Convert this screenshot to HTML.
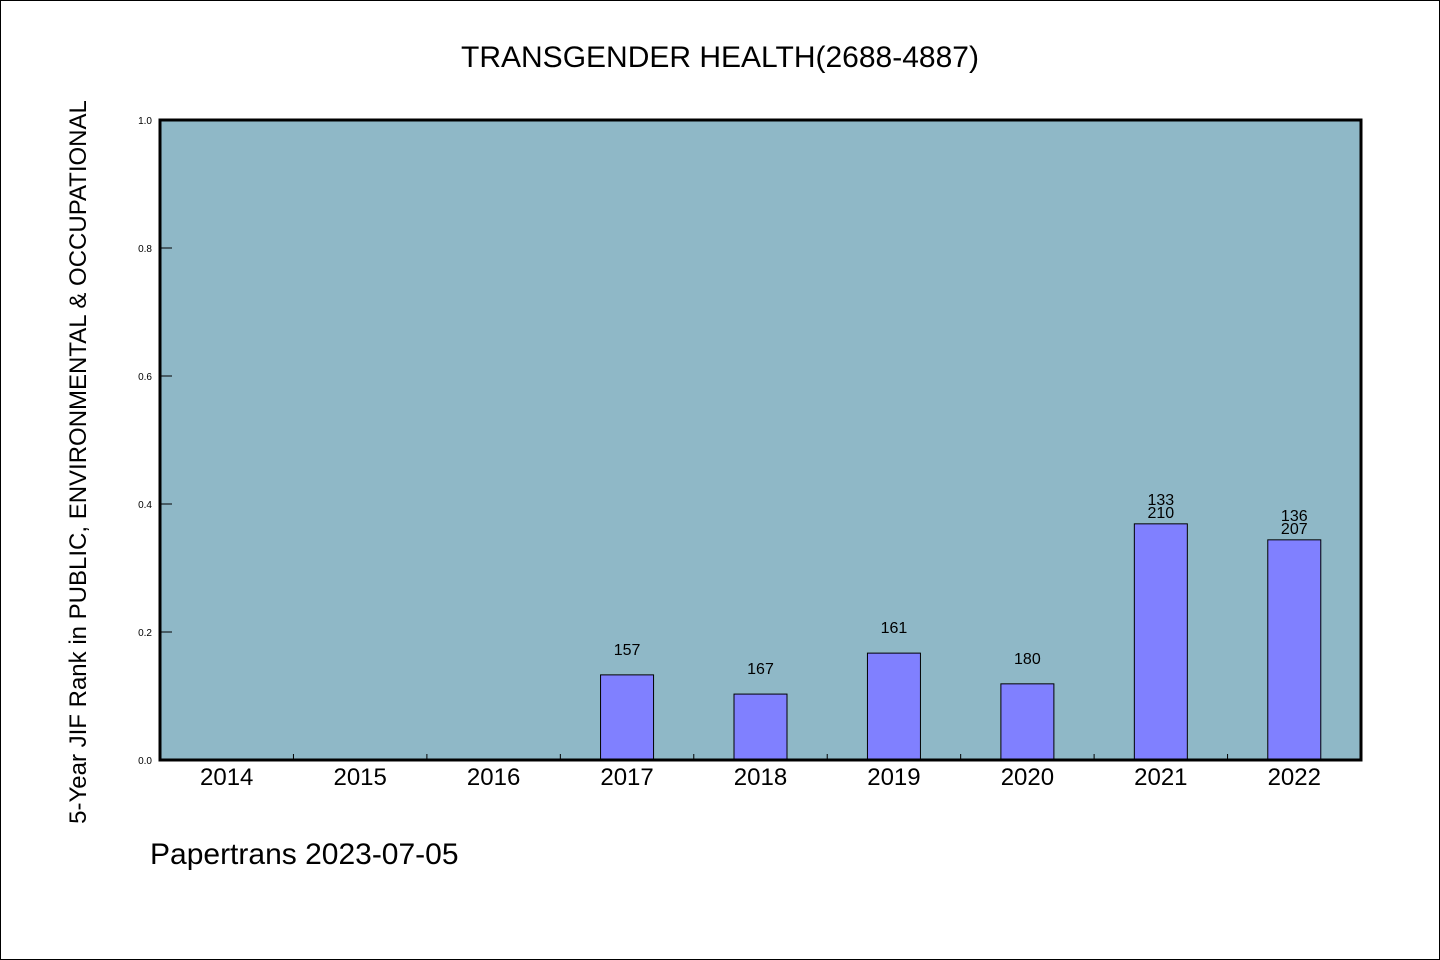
<!DOCTYPE html>
<html><head><meta charset="utf-8"><style>
html,body{margin:0;padding:0;background:#fff}
svg{display:block}
text{font-family:"WenQuanYi Zen Hei","Liberation Sans",sans-serif}
</style></head><body>
<svg id="chart" width="1440" height="960" xmlns="http://www.w3.org/2000/svg">
<rect x="0.5" y="0.5" width="1439" height="959" fill="#fff" stroke="#000"/>
<text x="720" y="67" font-size="30" text-anchor="middle">TRANSGENDER HEALTH(2688-4887)</text>
<text transform="translate(86,462) rotate(-90)" font-size="24" text-anchor="middle">5-Year JIF Rank in PUBLIC, ENVIRONMENTAL &amp; OCCUPATIONAL</text>
<text x="150" y="864" font-size="30">Papertrans 2023-07-05</text>
<rect x="160" y="120" width="1201" height="640" fill="#8fb8c7"/>
<g id="marks"></g>
<rect x="160" y="120" width="1201" height="640" fill="none" stroke="#000" stroke-width="3"/>
</svg>
<script>
const categories = ["2014","2015","2016","2017","2018","2019","2020","2021","2022"];
const values = [null,null,null,0.133,0.103,0.167,0.119,0.369,0.344];
const labelsLower = [null,null,null,"157","167","161","180","210","207"];
const labelsUpper = [null,null,null,null,null,null,null,"133","136"];
const yTicks = [0,0.2,0.4,0.6,0.8,1.0];
const yTickLabels = ["0.0","0.2","0.4","0.6","0.8","1.0"];

const X0=160,X1=1361,Y0=760,Y1=120;
const band=(X1-X0)/categories.length;
const xC=i=>X0+band*(i+0.5);
const y=v=>Y0-(v)*(Y0-Y1);
const g=document.getElementById('marks');
const NS="http://www.w3.org/2000/svg";
function mk(t,a){const e=document.createElementNS(NS,t);for(const k in a)e.setAttribute(k,a[k]);g.appendChild(e);return e;}

yTicks.forEach((v,i)=>{
  const l=mk('line',{x1:X0,x2:X0+12,y1:y(v),y2:y(v),stroke:'#000','stroke-width':1});
  
  
  const t=mk('text',{x:X0-8,y:y(v)+4,'font-size':10,'text-anchor':'end'});
  t.textContent=yTickLabels[i];
  
  
});
categories.forEach((c,i)=>{
  if(i>0){
    const tk=mk('line',{x1:X0+band*i,x2:X0+band*i,y1:Y0,y2:Y0-6,stroke:'#000','stroke-width':1});
    
    
  }
  const t=mk('text',{x:xC(i),y:785,'font-size':24,'text-anchor':'middle'});
  t.textContent=c;
  
  
  const v=values[i];
  if(v!=null){
    const bw=53;
    const b=mk('rect',{x:xC(i)-bw/2,y:y(v),width:bw,height:Y0-y(v),fill:'#8080ff',stroke:'#000','stroke-width':1});
    
    
    if(labelsUpper[i]!=null){
      const t1=mk('text',{x:xC(i),y:y(v)-6,'font-size':16,'text-anchor':'middle'});
      t1.textContent=labelsLower[i];
      
      
      const t2=mk('text',{x:xC(i),y:y(v)-19,'font-size':16,'text-anchor':'middle'});
      t2.textContent=labelsUpper[i];
      
      
    } else {
      const t1=mk('text',{x:xC(i),y:y(v)-20,'font-size':16,'text-anchor':'middle'});
      t1.textContent=labelsLower[i];
      
      
    }
  }
});
</script>
</body></html>
